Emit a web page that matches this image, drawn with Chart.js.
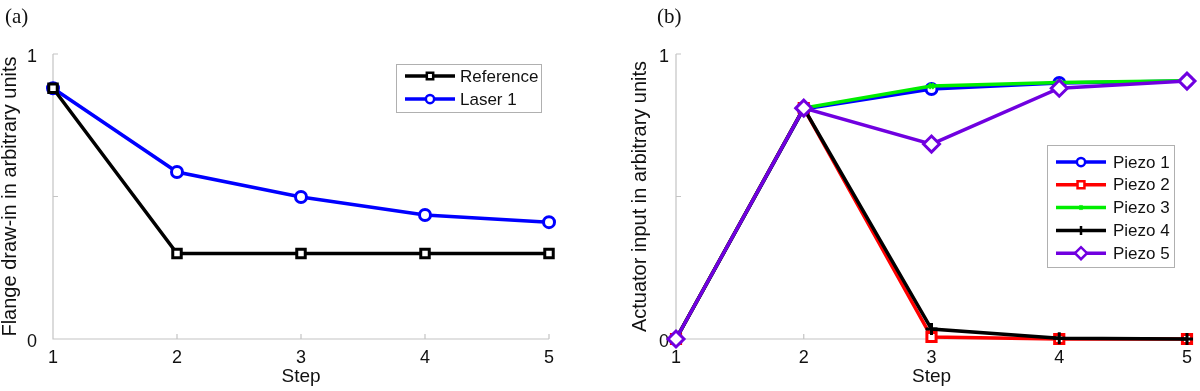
<!DOCTYPE html>
<html lang="en">
<head>
  <meta charset="utf-8">
  <title>Flange draw-in and actuator input</title>
  <script src="https://cdn.jsdelivr.net/npm/chart.js@4.4.0/dist/chart.umd.min.js"></script>
  <style>
    body { margin: 0; background: #fff; width: 1200px; height: 391px; position: relative; overflow: hidden; }
    .panel { position: absolute; top: 0; width: 600px; height: 391px; }
    .tag { position: absolute; top: 4px; font-family: "Liberation Serif", "DejaVu Serif", serif; font-size: 21px; color: #111; }
  </style>
</head>
<body>
<div class="panel" style="left:0"><canvas id="chartA" width="600" height="391"></canvas></div>
<div class="panel" style="left:600px"><canvas id="chartB" width="600" height="391"></canvas></div>
<div class="tag" style="left:5px">(a)</div>
<div class="tag" style="left:657px">(b)</div>
<script>
// data
var steps = [1, 2, 3, 4, 5];
var referenceA = [0.88, 0.30, 0.30, 0.30, 0.30];
var laser1A = [0.88, 0.586, 0.498, 0.435, 0.41];
var piezo1 = [0, 0.807, 0.877, 0.898, 0.905];
var piezo2 = [0, 0.81, 0.007, 0, 0];
var piezo3 = [0, 0.81, 0.888, 0.900, 0.906];
var piezo4 = [0, 0.81, 0.035, 0.003, 0];
var piezo5 = [0, 0.81, 0.684, 0.880, 0.905];
var yLabels = {0: '0', 1: '1'};

var FONT = '"Liberation Sans", Arial, sans-serif';
var AXIS = '#c4c4c4';

function pts(vals) {
  return vals.map(function (v, i) { return {x: steps[i], y: v}; });
}

function series(label, vals, color, style, radius, order) {
  return {
    label: label, data: pts(vals), borderColor: color, backgroundColor: '#fff',
    borderWidth: 3.5, pointStyle: style, pointRadius: radius, pointBorderWidth: 3,
    pointBackgroundColor: '#fff', pointBorderColor: color, clip: false, order: order, tension: 0
  };
}

// draws the grey axis lines with inward ticks, and the boxed legend
var axesAndLegend = {
  id: 'axesAndLegend',
  beforeDatasetsDraw: function (chart) {
    var ctx = chart.ctx, a = chart.chartArea, xs = chart.scales.x, ys = chart.scales.y;
    ctx.save();
    ctx.strokeStyle = AXIS;
    ctx.lineWidth = 1.2;
    ctx.beginPath();
    ctx.moveTo(a.left, a.top); ctx.lineTo(a.left, a.bottom); ctx.lineTo(a.right, a.bottom);
    xs.ticks.forEach(function (t) {
      var px = xs.getPixelForValue(t.value);
      ctx.moveTo(px, a.bottom); ctx.lineTo(px, a.bottom - 5);
    });
    ys.ticks.forEach(function (t) {
      var py = ys.getPixelForValue(t.value);
      ctx.moveTo(a.left, py); ctx.lineTo(a.left + 5, py);
    });
    ctx.stroke();
    ctx.restore();
  },
  afterDraw: function (chart) {
    var o = chart.options.plugins.axesAndLegend;
    var ctx = chart.ctx;
    ctx.save();
    ctx.fillStyle = '#fff';
    ctx.fillRect(o.x, o.y, o.w, o.h);
    ctx.strokeStyle = '#b0b0b0';
    ctx.lineWidth = 1;
    ctx.strokeRect(o.x + 0.5, o.y + 0.5, o.w, o.h);
    ctx.font = '17px ' + FONT;
    ctx.textBaseline = 'middle';
    chart.data.datasets.forEach(function (ds, i) {
      var cy = o.y + o.first + i * o.row;
      ctx.strokeStyle = ds.borderColor;
      ctx.lineWidth = 3.5;
      ctx.beginPath();
      ctx.moveTo(o.x + 9, cy); ctx.lineTo(o.x + 59, cy);
      ctx.stroke();
      ctx.fillStyle = '#fff';
      ctx.lineWidth = 2.5;
      Chart.helpers.drawPoint(ctx, {pointStyle: ds.pointStyle, radius: ds.pointRadius * 0.75, rotation: 0, borderWidth: 2.5}, o.x + 34, cy);
      ctx.fillStyle = '#111';
      ctx.fillText(ds.label, o.x + o.text, cy + 1);
    });
    ctx.restore();
  }
};

function options(title, padLeft, axisW, tickPad, legend) {
  return {
    responsive: false,
    animation: false,
    layout: {padding: {left: padLeft, top: 54, right: 0, bottom: 0}},
    plugins: {legend: {display: false}, tooltip: {enabled: false}, axesAndLegend: legend},
    scales: {
      x: {
        type: 'linear', min: 1, max: 5,
        afterFit: function (s) { s.height = 52; },
        grid: {display: false, drawTicks: false}, border: {display: false},
        ticks: {stepSize: 1, padding: 8, color: '#111', font: {family: FONT, size: 18}},
        title: {display: true, text: 'Step', color: '#111', font: {family: FONT, size: 19}, padding: {top: 0, bottom: 3}}
      },
      y: {
        min: 0, max: 1,
        afterFit: function (s) { s.width = axisW; },
        grid: {display: false, drawTicks: false}, border: {display: false},
        ticks: {stepSize: 0.5, padding: tickPad, labelOffset: 3, color: '#111', font: {family: FONT, size: 18},
          callback: function (v) { return yLabels[v] || ''; }},
        title: {display: true, text: title, color: '#111', font: {family: FONT, size: 20, lineHeight: 1}, padding: {top: 0, bottom: 0}}
      }
    }
  };
}

new Chart(document.getElementById('chartA'), {
  type: 'line',
  data: {datasets: [
    series('Reference', referenceA, '#000', 'rect', 6, 1),
    series('Laser 1', laser1A, '#0000ff', 'circle', 5.5, 2)
  ]},
  options: (function () {
    var o = options('Flange draw-in in arbitrary units', 0, 53, 16, {x: 396, y: 64, w: 145, h: 48, first: 12, row: 23, text: 64});
    o.layout.padding.right = 51;
    return o;
  })(),
  plugins: [axesAndLegend]
});

new Chart(document.getElementById('chartB'), {
  type: 'line',
  data: {datasets: [
    series('Piezo 1', piezo1, '#0000ff', 'circle', 5.5, 5),
    series('Piezo 2', piezo2, '#ff0000', 'rect', 6.5, 4),
    series('Piezo 3', piezo3, '#00ee00', 'crossRot', 3.5, 3),
    series('Piezo 4', piezo4, '#000', 'cross', 6, 2),
    series('Piezo 5', piezo5, '#7000e0', 'rectRot', 8, 1)
  ]},
  options: (function () {
    var o = options('Actuator input in arbitrary units', 30, 46, 7, {x: 447, y: 145, w: 127, h: 122, first: 17, row: 22.8, text: 66});
    o.layout.padding.right = 12;
    return o;
  })(),
  plugins: [axesAndLegend]
});
</script>
</body>
</html>
